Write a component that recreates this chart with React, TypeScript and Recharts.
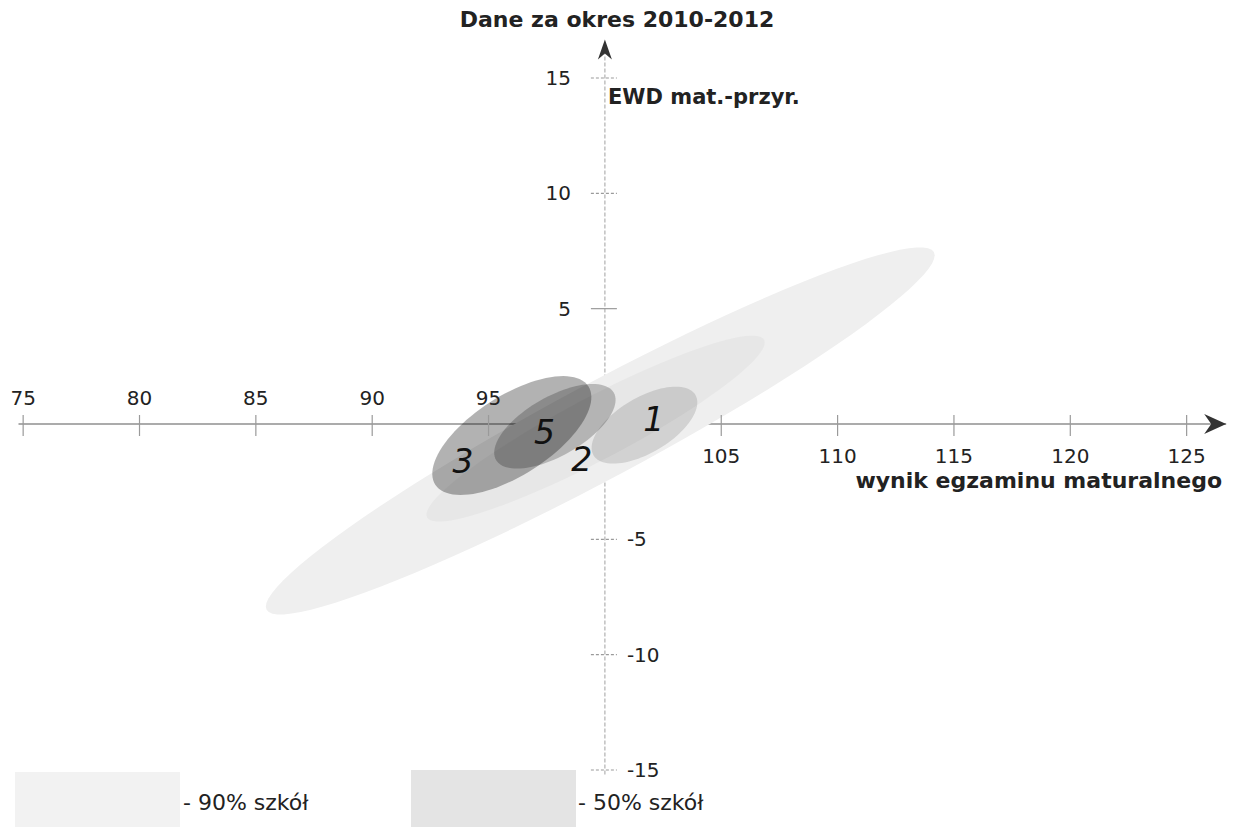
import React from 'react';
import { ScatterChart, Scatter, XAxis, YAxis, ReferenceLine } from 'recharts';

// axis ticks
const xTicks = [75, 80, 85, 90, 95, 105, 110, 115, 120, 125];
const yTicks = [15, 10, 5, -5, -10, -15];

// ellipses: centre, semi-axes (data units), tilt (deg)
const ellipseNames = ['90% szkół', '50% szkół', '1', '3', '5'];
const ellipseCx = [99.8, 99.6, 101.7, 96.0, 97.85];
const ellipseCy = [-0.3, -0.2, -0.05, -0.5, -0.1];
const ellipseRx = [16.3, 8.2, 2.55, 3.92, 2.92];
const ellipseRy = [2.05, 1.35, 1.2, 1.72, 1.28];
const ellipseTilt = [28.4, 28, 31, 33, 30];

// hand-written school numbers
const markText = ['3', '5', '2', '1'];
const markX = [93.9, 97.4, 99.0, 102.1];
const markY = [-1.6, -0.35, -1.52, 0.22];

const fills = ['#efefef', '#e7e7e7', 'rgba(0,0,0,0.12)', 'rgba(0,0,0,0.3)', 'rgba(0,0,0,0.22)'];

const X_DOMAIN = [74.8, 126.7];
const Y_DOMAIN = [-15.2, 16.5];
const FONT = 'DejaVu Sans, Verdana, sans-serif';

function ellipsePoints(i: number) {
  const t = (ellipseTilt[i] * Math.PI) / 180;
  const pts = [];
  for (let k = 0; k < 96; k++) {
    const a = (k / 96) * 2 * Math.PI;
    const u = ellipseRx[i] * Math.cos(a);
    const v = ellipseRy[i] * Math.sin(a);
    pts.push({
      x: ellipseCx[i] + u * Math.cos(t) - v * Math.sin(t),
      y: ellipseCy[i] + u * Math.sin(t) + v * Math.cos(t),
    });
  }
  return pts;
}

const noDot = () => <g />;

const polygon = (fill: string) => (p: any) => {
  const pts = p.points || [];
  const d = pts.map((q: any, k: number) => `${k ? 'L' : 'M'}${q.x},${q.y}`).join('') + 'Z';
  return <path d={d} fill={fill} stroke="none" />;
};

const XTick = (p: any) => {
  const { cx, cy, payload } = p;
  const above = payload.x < 100;
  return (
    <g>
      <line x1={cx} x2={cx} y1={cy - 9} y2={cy + 12} stroke="#9a9a9a" strokeWidth={1.2} />
      <text x={cx} y={above ? cy - 19 : cy + 39} textAnchor="middle" fontSize={20} fontFamily={FONT} fill="#222">
        {payload.x}
      </text>
    </g>
  );
};

const YTick = (p: any) => {
  const { cx, cy, payload } = p;
  const pos = payload.y > 0;
  return (
    <g>
      <line x1={cx - 14} x2={cx + 12} y1={cy} y2={cy} stroke="#9a9a9a" strokeWidth={1.2} strokeDasharray={payload.y === 5 ? undefined : '3 2'} />
      <text x={pos ? cx - 34 : cx + 22} y={cy + 7} textAnchor={pos ? 'end' : 'start'} fontSize={20} fontFamily={FONT} fill="#222">
        {payload.y}
      </text>
    </g>
  );
};

const Mark = (p: any) => {
  const { cx, cy, payload } = p;
  return (
    <text x={cx} y={cy + 12} textAnchor="middle" fontSize={33} fontFamily="DejaVu Sans" fontStyle="italic" fill="#111">
      {payload.label}
    </text>
  );
};

const ArrowRight = (p: any) => {
  const { cx, cy } = p;
  return <path d={`M${cx},${cy} L${cx - 22},${cy - 10} L${cx - 15},${cy} L${cx - 22},${cy + 10} Z`} fill="#333" />;
};

const ArrowUp = (p: any) => {
  const { cx, cy } = p;
  return <path d={`M${cx},${cy - 4} L${cx - 7},${cy + 16} L${cx},${cy + 10} L${cx + 7},${cy + 16} Z`} fill="#333" />;
};

export default function App() {
  const xTickData = xTicks.map((x) => ({ x, y: 0 }));
  const yTickData = yTicks.map((y) => ({ x: 100, y }));
  const marks = markText.map((label, i) => ({ x: markX[i], y: markY[i], label }));

  return (
    <div style={{ position: 'absolute', left: 0, top: 0, width: 1234, height: 827, background: '#fff', fontFamily: FONT }}>
      <ScatterChart width={1234} height={827} margin={{ top: 43.4, right: 7.8, bottom: 52.4, left: 18.5 }}>
        <XAxis type="number" dataKey="x" domain={X_DOMAIN} hide />
        <YAxis type="number" dataKey="y" domain={Y_DOMAIN} hide />
        {ellipseNames.map((name, i) => (
          <Scatter
            key={name}
            name={name}
            data={ellipsePoints(i)}
            shape={noDot}
            line={polygon(fills[i])}
            isAnimationActive={false}
          />
        ))}
        <ReferenceLine y={0} stroke="#8f8f8f" strokeWidth={1.6} />
        <ReferenceLine x={100} stroke="#b0b0b0" strokeWidth={1.2} strokeDasharray="4 2" />
        <Scatter data={xTickData} shape={XTick} isAnimationActive={false} />
        <Scatter data={yTickData} shape={YTick} isAnimationActive={false} />
        <Scatter data={[{ x: X_DOMAIN[1], y: 0 }]} shape={ArrowRight} isAnimationActive={false} />
        <Scatter data={[{ x: 100, y: Y_DOMAIN[1] }]} shape={ArrowUp} isAnimationActive={false} />
        <Scatter data={marks} shape={Mark} isAnimationActive={false} />
      </ScatterChart>
      <svg width={1234} height={827} style={{ position: 'absolute', left: 0, top: 0, pointerEvents: 'none' }}>
        <text x={617} y={27} textAnchor="middle" fontSize={22} fontWeight="bold" fontFamily={FONT} fill="#222">
          Dane za okres 2010-2012
        </text>
        <text x={608} y={104} fontSize={21} fontWeight="bold" fontFamily={FONT} fill="#222">
          EWD mat.-przyr.
        </text>
        <text x={1222} y={488} textAnchor="end" fontSize={22} fontWeight="bold" fontFamily={FONT} fill="#222">
          wynik egzaminu maturalnego
        </text>
        <rect x={15} y={772} width={165} height={55} fill="#f2f2f2" />
        <text x={183} y={810} fontSize={22} fontFamily={FONT} fill="#222">- 90% szkół</text>
        <rect x={411} y={770} width={165} height={57} fill="#e4e4e4" />
        <text x={578} y={810} fontSize={22} fontFamily={FONT} fill="#222">- 50% szkół</text>
      </svg>
    </div>
  );
}
